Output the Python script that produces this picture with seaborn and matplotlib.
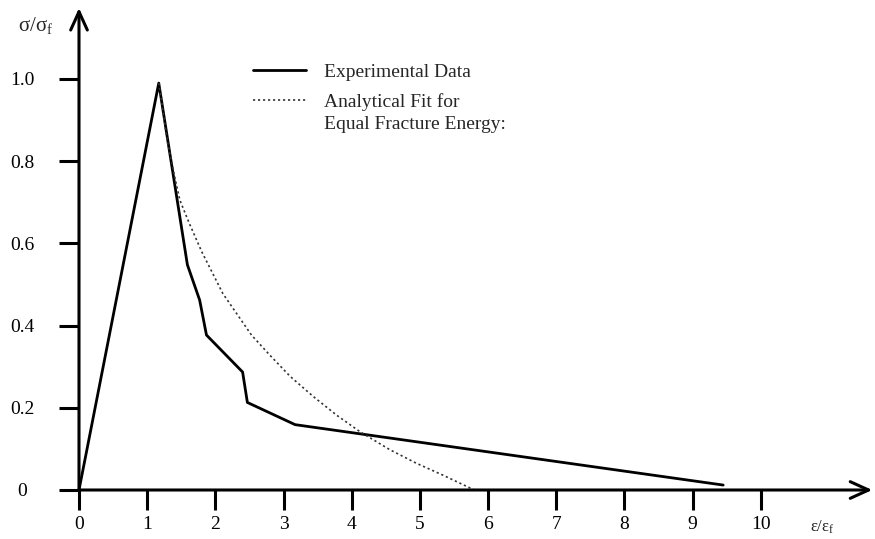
import matplotlib
matplotlib.use("Agg")
import matplotlib.pyplot as plt
import numpy as np
import pandas as pd
import seaborn as sns

# ---- data ----
exp_strain = [0.0, 1.17, 1.59, 1.77, 1.87, 2.40, 2.47, 3.17, 9.45]
exp_stress = [0.0, 0.99, 0.548, 0.462, 0.377, 0.287, 0.213, 0.159, 0.012]
fit_strain = [1.17, 1.30, 1.40, 1.48, 1.62, 1.80, 2.11, 2.53, 2.80, 3.10, 3.44, 3.78,
              4.12, 4.56, 4.95, 5.34, 5.80]
fit_stress = [0.99, 0.845, 0.765, 0.705, 0.648, 0.58, 0.478, 0.377, 0.328, 0.276, 0.227, 0.182,
              0.142, 0.098, 0.065, 0.036, 0.0]
x_ticks = [0, 1, 2, 3, 4, 5, 6, 7, 8, 9, 10]
x_tick_labels = ["0", "1", "2", "3", "4", "5", "6", "7", "8", "9", "10"]
y_ticks = [0, 0.2, 0.4, 0.6, 0.8, 1.0]
y_tick_labels = ["0", "0.2", "0.4", "0.6", "0.8", "1.0"]
label_exp = "Experimental Data"
label_fit_line1 = "Analytical Fit for"
label_fit_line2 = "Equal Fracture Energy:"

sns.set_theme(style="white")
plt.rcParams["font.family"] = ["Liberation Serif", "DejaVu Serif"]
plt.rcParams["mathtext.fontset"] = "custom"
plt.rcParams["mathtext.rm"] = "Liberation Serif"
plt.rcParams["mathtext.it"] = "Liberation Serif:italic"

W, H = 875, 539
fig = plt.figure(figsize=(W / 100, H / 100), dpi=100)
x0_px, y0_px = 79, 490
px_per_x, px_per_y = 68.17, 411.0
ax = fig.add_axes([x0_px / W, (H - y0_px) / H, (W - x0_px) / W, (y0_px - 8) / H])
xmax = (W - x0_px) / px_per_x
ymax = (y0_px - 8) / px_per_y
ax.set_xlim(0, xmax)
ax.set_ylim(0, ymax)

df_exp = pd.DataFrame({"strain": exp_strain, "stress": exp_stress})
df_fit = pd.DataFrame({"strain": fit_strain, "stress": fit_stress})

sns.lineplot(data=df_exp, x="strain", y="stress", ax=ax, color="black", lw=2.0,
             sort=False, estimator=None, label=label_exp)
sns.lineplot(data=df_fit, x="strain", y="stress", ax=ax, color="#333333", lw=1.2,
             sort=False, estimator=None, label=label_fit_line1, linestyle=(0, (1.3, 1.7)))
for ln in ax.lines:
    ln.set_clip_on(False)

for s in ax.spines.values():
    s.set_visible(False)

arrow_kw = dict(arrowstyle="->,head_length=1.1,head_width=0.5", lw=2.2, color="black",
                shrinkA=0, shrinkB=0)
ax.annotate("", xy=(xmax - 0.04, 0), xytext=(0, 0), arrowprops=arrow_kw, annotation_clip=False)
ax.annotate("", xy=(0, ymax), xytext=(0, 0), arrowprops=arrow_kw, annotation_clip=False)

ax.set_xticks(x_ticks)
ax.set_xticklabels(x_tick_labels)
ax.set_yticks(y_ticks)
ax.set_yticklabels(y_tick_labels)
ax.tick_params(axis="both", which="major", bottom=True, left=True, direction="out",
               length=14.4, width=2.2, color="black", labelsize=14, labelcolor="black")
ax.tick_params(axis="x", pad=4)
ax.tick_params(axis="y", pad=26.5)
for lbl in ax.get_yticklabels():
    lbl.set_horizontalalignment("center")
ax.set_xlabel("")
ax.set_ylabel("")

ax.legend(loc="upper left", bbox_to_anchor=(253 / W, 1 - 63 / H), bbox_transform=fig.transFigure,
          frameon=False, handlelength=2.75, handletextpad=0.9, labelspacing=0.62,
          borderpad=0, borderaxespad=0, fontsize=14)
fig.text(324 / W, 1 - 125 / H, label_fit_line2, ha="left", va="center", fontsize=14)

fig.text(822 / W, 1 - 527 / H, "ε/ε$_\\mathrm{f}$", ha="center", va="center", fontsize=12)
fig.text(36 / W, 1 - 26 / H, "σ/σ$_\\mathrm{f}$", ha="center", va="center", fontsize=15)

fig.savefig("out.png", dpi=100)
